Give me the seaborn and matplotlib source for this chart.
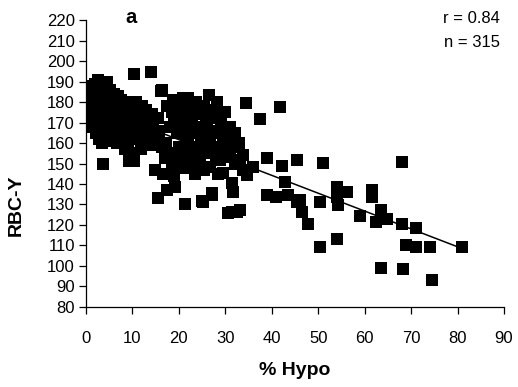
import matplotlib
matplotlib.use("Agg")
import matplotlib.pyplot as plt
import numpy as np
import pandas as pd
import seaborn as sns

# values (% Hypo, RBC-Y)
hypo = [
    # dense cluster near zero
    0.3, 0.5, 0.4, 0.6, 0.8, 1.0, 1.0, 1.2, 1.1, 1.4, 1.5, 1.6, 1.8, 1.7, 2.0, 2.0, 2.2, 2.1, 2.3, 2.2,
    2.5, 2.8, 2.7, 2.9, 3.0, 2.8, 2.9, 3.2, 3.4, 3.5, 3.3, 3.6, 3.5, 3.4, 3.7, 4.0, 4.1, 4.2, 4.0, 4.3,
    4.1, 4.6, 4.7, 4.5, 4.8, 4.6, 4.9, 4.7,
    5.2, 5.4, 5.3, 5.5, 5.6, 5.4, 6.0, 6.2, 6.1, 6.3, 6.0, 6.6, 6.8, 7.0, 6.9, 7.2, 7.1, 7.6, 7.8, 7.7,
    8.0, 7.9, 8.4, 8.5, 8.6, 8.8, 8.7, 9.2, 9.3, 9.1, 9.0, 9.3, 9.8, 10.0, 9.9, 10.2, 10.4,
    10.4, 13.9, 16.1,
    10.8, 11.0, 11.3, 11.5, 11.8, 12.0, 12.3, 12.5, 12.8, 13.0, 13.3, 13.6, 13.8, 14.3, 14.5, 14.9, 15.0,
    15.4, 15.5, 15.8, 16.3, 16.6, 17.0, 17.4, 16.3,
    17.5, 18.8, 18.5, 19.0, 19.5, 20.2, 20.5, 21.0, 21.5, 22.0, 22.3, 22.8, 23.0, 23.6, 24.0, 24.5, 24.8,
    25.5, 25.8, 26.0, 26.5, 26.5, 27.0, 28.0, 28.5, 29.0, 29.5, 30.0, 31.0,
    18.0, 19.8, 20.8, 21.8, 23.2, 24.2, 25.0, 26.8, 27.6, 28.2, 29.2, 30.5, 32.0, 33.0,
    17.2, 18.0, 18.5, 19.0, 19.2, 20.0, 20.5, 21.0, 21.3, 22.0, 22.5, 23.0, 23.5, 24.0, 24.5, 24.9, 25.3,
    25.5, 26.0, 26.5, 26.7, 27.1, 27.1, 27.5, 28.0, 28.5, 28.9, 29.6, 30.0, 30.6, 31.0, 31.4, 31.4, 31.4,
    31.7, 32.0, 32.6, 33.2, 33.2, 33.9, 33.9, 34.6, 36.0, 34.5, 37.5,
    # sparse right-hand part
    38.9, 38.9, 40.9, 41.8, 42.1, 42.9, 43.6, 45.4, 45.4, 46.1, 46.4, 47.9, 50.4, 50.4, 51.1, 54.0, 54.1,
    54.0, 54.3, 56.1, 58.9, 61.5, 61.5, 62.4, 63.5, 63.5, 64.9, 68.0, 68.0, 68.3, 68.9, 71.0, 71.1, 74.1,
    74.4, 80.9,
]
rbc_y = [
    185, 180, 176, 172, 170, 188, 183, 178, 174, 168, 186, 181, 176, 171, 189, 184, 179, 174, 169, 165,
    191, 187, 182, 177, 172, 167, 162, 190, 185, 180, 175, 170, 165, 160, 150, 188, 183, 178, 173, 168,
    163, 190, 185, 180, 175, 170, 165, 161,
    186, 181, 176, 171, 166, 161, 184, 179, 174, 169, 164, 160, 183, 178, 173, 168, 163, 181, 176, 171,
    166, 161, 157, 180, 174, 169, 164, 178, 172, 167, 158, 151, 176, 170, 163, 155, 151,
    193.7, 194.8, 185.5,
    180, 175, 168, 162, 157, 178, 172, 166, 160, 176, 170, 164, 159, 174, 168, 147, 162,
    133, 172, 166, 158, 145, 152.5, 137, 186,
    178, 181, 175, 170, 165, 178, 172, 167, 162, 182, 176, 170, 158, 180, 174, 165, 160,
    178, 172, 170.4, 176, 183.4, 166, 176, 164.7, 170, 160, 175, 168,
    168, 176, 182, 172, 166, 178, 168, 160, 172, 180, 166, 162, 165, 160,
    160, 155, 150, 144, 138.7, 158, 153, 148, 130.2, 160, 155, 150, 145, 157, 152, 131.9, 131.4,
    147, 162, 155, 148.4, 134.6, 135.5, 158, 152, 145, 151.7, 145.2, 155, 125.7, 153.3, 158.2, 140.3, 126.5,
    136.2, 150, 126.5, 151.7, 127.3, 154.1, 146.8, 144.4, 148.4, 179.4, 171.5,
    152.5, 134.6, 133.8, 177.4, 148.8, 141.1, 134.6, 151.7, 131.4, 132.2, 126.5, 120.5, 131.4, 109.1, 150.1, 113.0, 138.4,
    133.8, 129.8, 136.2, 124.4, 137.1, 133.5, 121.6, 127.3, 99.2, 122.8, 150.9, 120.5, 98.5, 110.2, 118.4, 109.1, 109.1,
    93.2, 109.4,
]
x_ticks = [0, 10, 20, 30, 40, 50, 60, 70, 80, 90]
y_ticks = [80, 90, 100, 110, 120, 130, 140, 150, 160, 170, 180, 190, 200, 210, 220]

df = pd.DataFrame({"hypo": hypo, "rbc": rbc_y})

sns.set_style("white")
plt.rcParams["font.family"] = ["Liberation Sans", "DejaVu Sans"]
plt.rcParams["text.color"] = "black"
plt.rcParams["axes.labelcolor"] = "black"

fig = plt.figure(figsize=(5.18, 3.87), dpi=100)
ax = fig.add_axes([0.166, 0.207, 0.807, 0.741])

sns.scatterplot(data=df, x="hypo", y="rbc", marker="s", s=72, color="black",
                linewidth=0, ax=ax, zorder=3)
sns.regplot(data=df, x="hypo", y="rbc", scatter=False, ci=None, color="black",
            line_kws={"linewidth": 1.1}, ax=ax)

ax.set_xlim(0, 90)
ax.set_ylim(80, 220)
ax.set_xticks(x_ticks)
ax.set_yticks(y_ticks)
ax.tick_params(axis="x", bottom=True, direction="out", length=5, width=0.9, pad=12,
               labelsize=12, color="black", labelcolor="black")
ax.tick_params(axis="y", left=True, direction="out", length=5, width=0.9, pad=3,
               labelsize=12, color="black", labelcolor="black")
sns.despine(ax=ax)
for side in ["left", "bottom"]:
    ax.spines[side].set_color("black")
    ax.spines[side].set_linewidth(0.9)

ax.set_xlabel("% Hypo", fontsize=14, fontweight="bold")
ax.set_ylabel("RBC-Y", fontsize=14, fontweight="bold")
ax.xaxis.set_label_coords(0.5, -0.193)
ax.yaxis.set_label_coords(-0.146, 0.355)

ax.text(0.108, 1.01, "a", transform=ax.transAxes, fontsize=14.5, fontweight="bold",
        ha="center", va="center")
ax.text(0.99, 1.007, "r = 0.84", transform=ax.transAxes, fontsize=12, ha="right", va="center")
ax.text(0.99, 0.923, "n = 315", transform=ax.transAxes, fontsize=12, ha="right", va="center")

fig.savefig("out.png", dpi=100)
